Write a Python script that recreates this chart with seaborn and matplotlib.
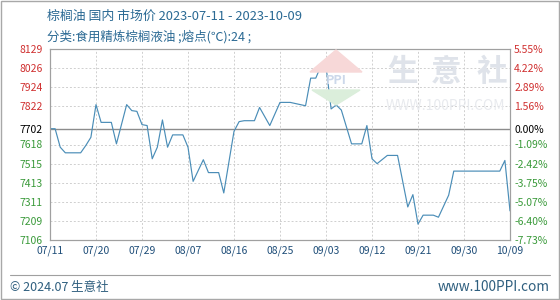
import matplotlib
matplotlib.use("Agg")
import matplotlib.pyplot as plt
import seaborn as sns
import pandas as pd
import numpy as np
from matplotlib.patches import Rectangle, Polygon

sns.set_theme(style="white")
plt.rcParams['font.family'] = ['Noto Sans CJK SC', 'DejaVu Sans']

dates = ["07-11", "07-12", "07-13", "07-14", "07-17", "07-18", "07-19", "07-20", "07-21", "07-23",
         "07-24", "07-26", "07-27", "07-28", "07-29", "07-30", "07-31", "08-01", "08-02", "08-03",
         "08-04", "08-06", "08-07", "08-08", "08-10", "08-11", "08-13", "08-14", "08-16", "08-17",
         "08-18", "08-20", "08-21", "08-23", "08-25", "08-27", "08-30", "08-31", "09-01", "09-02",
         "09-03", "09-04", "09-05", "09-06", "09-08", "09-10", "09-11", "09-12", "09-13", "09-15",
         "09-17", "09-19", "09-20", "09-21", "09-22", "09-24", "09-25", "09-27", "09-28", "10-07",
         "10-08", "10-09"]
prices = [7702, 7702, 7603, 7573, 7573, 7612, 7656, 7831, 7736, 7736,
          7621, 7831, 7799, 7795, 7724, 7719, 7541, 7603, 7749, 7603,
          7669, 7669, 7603, 7420, 7536, 7467, 7467, 7358, 7688, 7740,
          7745, 7745, 7816, 7719, 7843, 7843, 7825, 7973, 7973, 8038,
          8038, 7808, 7829, 7802, 7621, 7621, 7719, 7541, 7515, 7559,
          7559, 7283, 7349, 7191, 7239, 7239, 7228, 7346, 7475, 7475,
          7532, 7262]

left_labels = ["7106", "7209", "7311", "7413", "7515", "7618", "7702", "7822", "7924", "8026", "8129"]
right_labels = ["-7.73%", "-6.40%", "-5.07%", "-3.75%", "-2.42%", "-1.09%", "0.00%", "1.56%", "2.89%", "4.22%", "5.55%"]
x_labels = ["07/11", "07/20", "07/29", "08/07", "08/16", "08/25", "09/03", "09/12", "09/21", "09/30", "10/09"]

base = 7702
ymin, ymax = 7106, 8129

df = pd.DataFrame({"date": pd.to_datetime(["2023-" + d for d in dates]), "price": prices})

fig = plt.figure(figsize=(5.6, 3.0), dpi=100)
ax = fig.add_axes([50/560, 60/300, 460/560, 191/300])

step = (ymax - ymin) / 10
ytick_vals = [ymin + k * step for k in range(11)]
ytick_vals[6] = base

# grid
for k, v in enumerate(ytick_vals):
    if k in (0, 10):
        continue
    if k == 6:
        ax.axhline(v, color="#8c8c8c", lw=1.0, zorder=1)
    else:
        ax.axhline(v, color="#cfcfcf", lw=0.7, ls=(0, (2, 2)), zorder=1)

start = pd.Timestamp("2023-07-11")
xticks = [start + pd.Timedelta(days=9 * i) for i in range(len(x_labels))]
for t in xticks[1:-1]:
    ax.axvline(t, color="#cfcfcf", lw=0.7, ls=(0, (2, 2)), zorder=1)

# watermark
for ch, px in zip("生意社", [402, 446, 492]):
    fig.text(px/560, 1 - 72/300, ch, fontsize=22, color="#dfe3ea", ha="center", va="center",
             fontweight="bold", zorder=0)
fig.text(445/560, 1 - 106/300, "WWW.100PPI.COM", fontsize=10, color="#e8eaee", ha="center", va="center", zorder=0)
fig.patches.append(Polygon([[310/560, 1 - 72/300], [336/560, 1 - 50/300], [362/560, 1 - 72/300]],
                           closed=True, transform=fig.transFigure, color="#f7d8d8", zorder=0))
fig.patches.append(Polygon([[312/560, 1 - 90/300], [336/560, 1 - 105/300], [360/560, 1 - 90/300]],
                           closed=True, transform=fig.transFigure, color="#dbeedb", zorder=0))
fig.text(336/560, 1 - 81/300, "PPI", fontsize=9, color="#ccd8ea", ha="center", va="center",
         fontweight="bold", zorder=0)
ax.set_facecolor("none")

sns.lineplot(data=df, x="date", y="price", ax=ax, color="#4a8db7", lw=0.85, zorder=3)

ax.set_xlim(start, start + pd.Timedelta(days=90))
ax.set_ylim(ymin, ymax)
ax.set_xticks(xticks)
ax.set_xticklabels(x_labels, fontsize=7.5, color="#1f4e79")
ax.set_yticks(ytick_vals)
ax.set_yticklabels(left_labels, fontsize=7.5)
ax.tick_params(axis="both", length=0, pad=4)
ax.tick_params(axis="y", pad=22)
for lab in ax.get_yticklabels():
    lab.set_horizontalalignment("left")
colors = ["#3a9a3a"] * 6 + ["#000000"] + ["#d03030"] * 4
for lab, c in zip(ax.get_yticklabels(), colors):
    lab.set_color(c)
ax.set_xlabel("")
ax.set_ylabel("")

ax2 = ax.twinx()
ax2.set_ylim(ymin, ymax)
ax2.set_yticks(ytick_vals)
ax2.set_yticklabels(right_labels, fontsize=7.5)
ax2.tick_params(axis="y", length=0, pad=3)
for lab, c in zip(ax2.get_yticklabels(), colors):
    lab.set_color(c)

for a in (ax, ax2):
    for s in a.spines.values():
        s.set_color("#a0a0a0")
        s.set_linewidth(0.8)

# titles
fig.text(47/560, 1 - 16/300, "棕榈油 国内 市场价 2023-07-11 - 2023-10-09", fontsize=9.3, color="#2b6a94",
         ha="left", va="center")
fig.text(47/560, 1 - 37/300, "分类:食用精炼棕榈液油 ;熔点(℃):24 ;", fontsize=9, color="#2b6a94",
         ha="left", va="center")

# footer
fig.add_artist(plt.Line2D([10/560, 550/560], [1 - 275/300, 1 - 275/300], color="#a0a0a0", lw=0.8,
                          transform=fig.transFigure))
fig.text(10/560, 1 - 287/300, "© 2024.07 生意社", fontsize=9, color="#2f5f7f", ha="left", va="center")
fig.text(550/560, 1 - 287/300, "www.100PPI.com", fontsize=9.8, color="#2f5f7f", ha="right", va="center")

fig.patches.append(Rectangle((0.001, 0.002), 0.997, 0.995, transform=fig.transFigure, fill=False,
                             edgecolor="#a8a8a8", lw=1.0))

fig.savefig("out.png", dpi=100)
